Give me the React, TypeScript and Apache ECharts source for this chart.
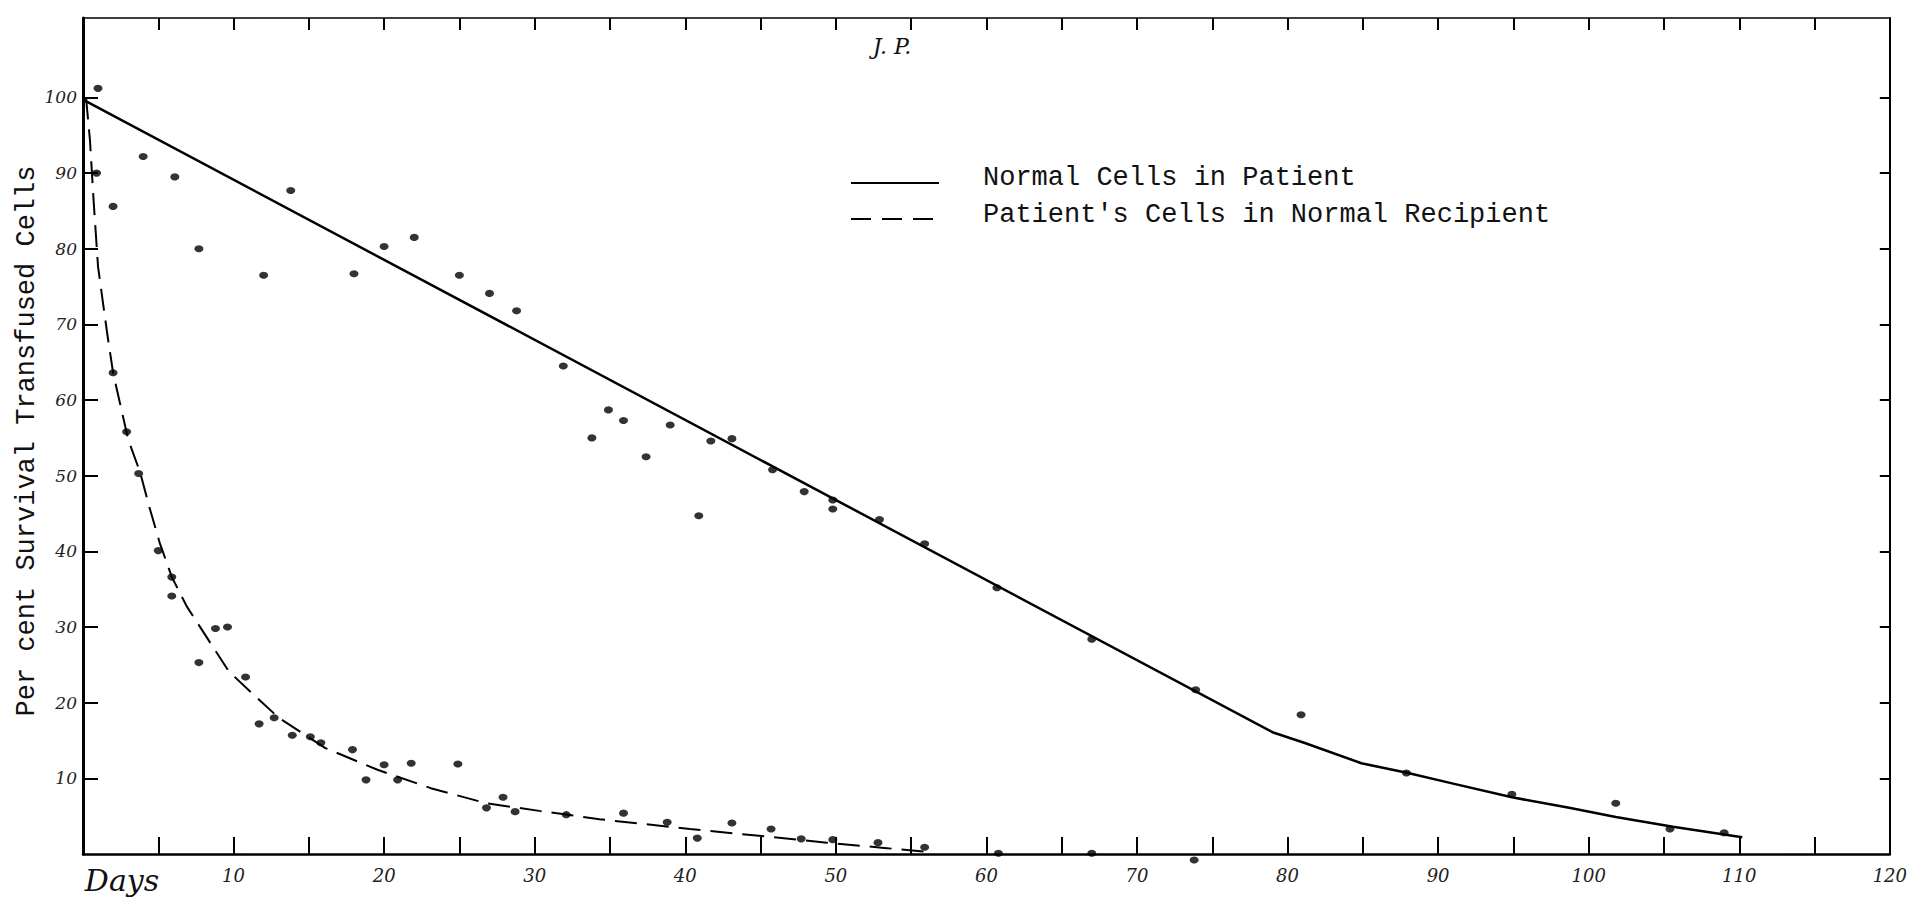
import React, { useEffect, useRef } from "react";
import * as echarts from "echarts";

// Fitted curve: Normal Cells in Patient (solid line) [day, per cent]
const normalCurve: [number, number][] = [
  [0, 99.7], [79, 16.1], [81.1, 14.7], [84.9, 12.0], [88, 10.7], [91, 9.3],
  [94.9, 7.5], [98.7, 6.1], [101.8, 4.9], [105.6, 3.6], [110.2, 2.2],
];

// Fitted curve: Patient's Cells in Normal Recipient (dashed line)
const patientCurve: [number, number][] = [
  [0.2, 100], [0.46, 94.4], [0.7, 86.5], [1.0, 77.6], [1.6, 68.9], [2.0, 63.6],
  [3.0, 54.8], [3.8, 50.4], [4.4, 45.9], [5.1, 41.1], [5.9, 36.6], [6.9, 32.7],
  [8.2, 28.7], [9.7, 24.1], [11.2, 21.3], [13.0, 18.0], [16.1, 14.0], [19.6, 11.1],
  [23.1, 8.7], [26.8, 6.7], [30.3, 5.7], [34.3, 4.6], [40.3, 3.3], [44.9, 2.4],
  [49.4, 1.5], [53.2, 0.8], [56.0, 0.3],
];

// Observed points near the solid line
const normalPoints: [number, number][] = [
  [1.0, 101.2], [0.9, 90.0], [4.0, 92.2], [6.1, 89.5], [2.0, 85.6], [7.7, 80.0],
  [12.0, 76.5], [13.8, 87.7], [18.0, 76.7], [20.0, 80.3], [22.0, 81.5], [25.0, 76.5],
  [27.0, 74.1], [28.8, 71.8], [31.9, 64.5], [33.8, 55.0], [34.9, 58.7], [35.9, 57.3],
  [37.4, 52.5], [39.0, 56.7], [40.9, 44.7], [41.7, 54.6], [43.1, 54.9], [45.8, 50.8],
  [47.9, 47.9], [49.8, 46.8], [49.8, 45.6], [52.9, 44.2], [55.9, 41.0], [60.7, 35.2],
  [67.0, 28.4], [73.9, 21.7], [80.9, 18.4], [87.9, 10.7], [94.9, 7.9], [101.8, 6.7],
  [105.4, 3.3], [109.0, 2.8],
];

// Observed points near the dashed line
const patientPoints: [number, number][] = [
  [2.0, 63.6], [2.9, 55.8], [3.7, 50.3], [5.0, 40.1], [5.9, 36.6], [5.9, 34.1],
  [7.7, 25.3], [8.8, 29.8], [9.6, 30.0], [10.8, 23.4], [11.7, 17.2], [12.7, 18.0],
  [13.9, 15.7], [15.1, 15.5], [15.8, 14.7], [17.9, 13.8], [18.8, 9.8], [20.0, 11.8],
  [20.9, 9.8], [21.8, 12.0], [24.9, 11.9], [26.8, 6.1], [27.9, 7.5], [28.7, 5.6],
  [32.1, 5.2], [35.9, 5.4], [38.8, 4.2], [40.8, 2.1], [43.1, 4.1], [45.7, 3.3],
  [47.7, 2.0], [49.8, 1.9], [52.8, 1.5], [55.9, 0.9], [60.8, 0.1], [67.0, 0.1],
  [73.8, -0.8],
];

const yTickValues = [10, 20, 30, 40, 50, 60, 70, 80, 90, 100];
const seriesNames = ["Normal Cells in Patient", "Patient's Cells in Normal Recipient"];
const yAxisTitle = "Per cent Survival Transfused Cells";
const xAxisTitle = "Days";
const chartTitle = "J. P.";

const handFont = "'DejaVu Serif', serif";
const typeFont = "'Liberation Mono', monospace";

export default function App() {
  const ref = useRef<HTMLDivElement>(null);
  useEffect(() => {
    if (!ref.current) return;
    const chart = echarts.init(ref.current, undefined, { renderer: "svg" });
    const black = "#000";
    chart.setOption({
      animation: false,
      backgroundColor: "#fff",
      grid: { left: 83, right: 5, top: 18, bottom: 60 },
      xAxis: [
        {
          type: "value", position: "bottom", min: 0, max: 120, interval: 5,
          axisLine: { onZero: false, lineStyle: { color: black, width: 2.5 } },
          axisTick: { inside: true, length: 17, lineStyle: { color: black, width: 2 } },
          axisLabel: {
            color: "#222", fontFamily: handFont, fontStyle: "italic", fontSize: 18, margin: 12,
            formatter: (v: number) => (v > 0 && v % 10 === 0 ? String(v) : ""),
          },
          splitLine: { show: false },
        },
        {
          type: "value", position: "top", min: 0, max: 120, interval: 5,
          axisLine: { onZero: false, lineStyle: { color: black, width: 1.5 } },
          axisTick: { inside: true, length: 12, lineStyle: { color: black, width: 2 } },
          axisLabel: { show: false },
          splitLine: { show: false },
        },
      ],
      yAxis: [
        {
          type: "value", position: "left", min: 0, max: 110.5, interval: 10,
          axisLine: { show: true, onZero: false, lineStyle: { color: black, width: 3 } },
          axisTick: {
            show: true, inside: true, length: 15, customValues: yTickValues,
            lineStyle: { color: black, width: 2 },
          },
          axisLabel: {
            color: "#222", fontFamily: handFont, fontStyle: "italic", fontSize: 17, margin: 6,
            customValues: yTickValues,
            formatter: (v: number) => String(v),
          },
          splitLine: { show: false },
        },
        {
          type: "value", position: "right", min: 0, max: 110.5, interval: 10,
          axisLine: { show: true, onZero: false, lineStyle: { color: black, width: 2 } },
          axisTick: {
            show: true, inside: true, length: 10, customValues: yTickValues,
            lineStyle: { color: black, width: 2 },
          },
          axisLabel: { show: false },
          splitLine: { show: false },
        },
      ],
      series: [
        {
          name: seriesNames[0], type: "line", data: normalCurve, xAxisIndex: 0, yAxisIndex: 0,
          showSymbol: false, symbol: "none", lineStyle: { color: black, width: 2.5 },
        },
        {
          name: seriesNames[1], type: "line", data: patientCurve, xAxisIndex: 0, yAxisIndex: 0,
          showSymbol: false, symbol: "none", lineStyle: { color: black, width: 2, type: [22, 10] },
        },
        {
          name: seriesNames[0] + " (observed)", type: "scatter", data: normalPoints,
          xAxisIndex: 0, yAxisIndex: 0, symbol: "circle", symbolSize: [9, 7], clip: false,
          itemStyle: { color: black },
        },
        {
          name: seriesNames[1] + " (observed)", type: "scatter", data: patientPoints,
          xAxisIndex: 0, yAxisIndex: 0, symbol: "circle", symbolSize: [9, 7], clip: false,
          itemStyle: { color: black },
        },
      ],
      graphic: [
        {
          type: "text", x: 27, y: 441, rotation: Math.PI / 2,
          style: { text: yAxisTitle, fontFamily: typeFont, fontSize: 27, fill: "#111", align: "center", verticalAlign: "middle" },
        },
        {
          type: "text", x: 122, y: 880,
          style: { text: xAxisTitle, fontFamily: handFont, fontStyle: "italic", fontSize: 30, fill: "#111", align: "center", verticalAlign: "middle" },
        },
        {
          type: "text", x: 892, y: 46,
          style: { text: chartTitle, fontFamily: handFont, fontStyle: "italic", fontSize: 22, fill: "#111", align: "center", verticalAlign: "middle" },
        },
        {
          type: "line", shape: { x1: 851, y1: 183, x2: 939, y2: 183 },
          style: { stroke: black, lineWidth: 2 },
        },
        {
          type: "line", shape: { x1: 851, y1: 219, x2: 939, y2: 219 },
          style: { stroke: black, lineWidth: 2, lineDash: [20, 11] },
        },
        {
          type: "text", x: 983, y: 178,
          style: { text: seriesNames[0], fontFamily: typeFont, fontSize: 27, fill: "#111", align: "left", verticalAlign: "middle" },
        },
        {
          type: "text", x: 983, y: 215,
          style: { text: seriesNames[1], fontFamily: typeFont, fontSize: 27, fill: "#111", align: "left", verticalAlign: "middle" },
        },
      ],
    });
    return () => chart.dispose();
  }, []);
  return (
    <div
      ref={ref}
      style={{ position: "absolute", left: 0, top: 0, width: 1910, height: 914, background: "#fff" }}
    />
  );
}
